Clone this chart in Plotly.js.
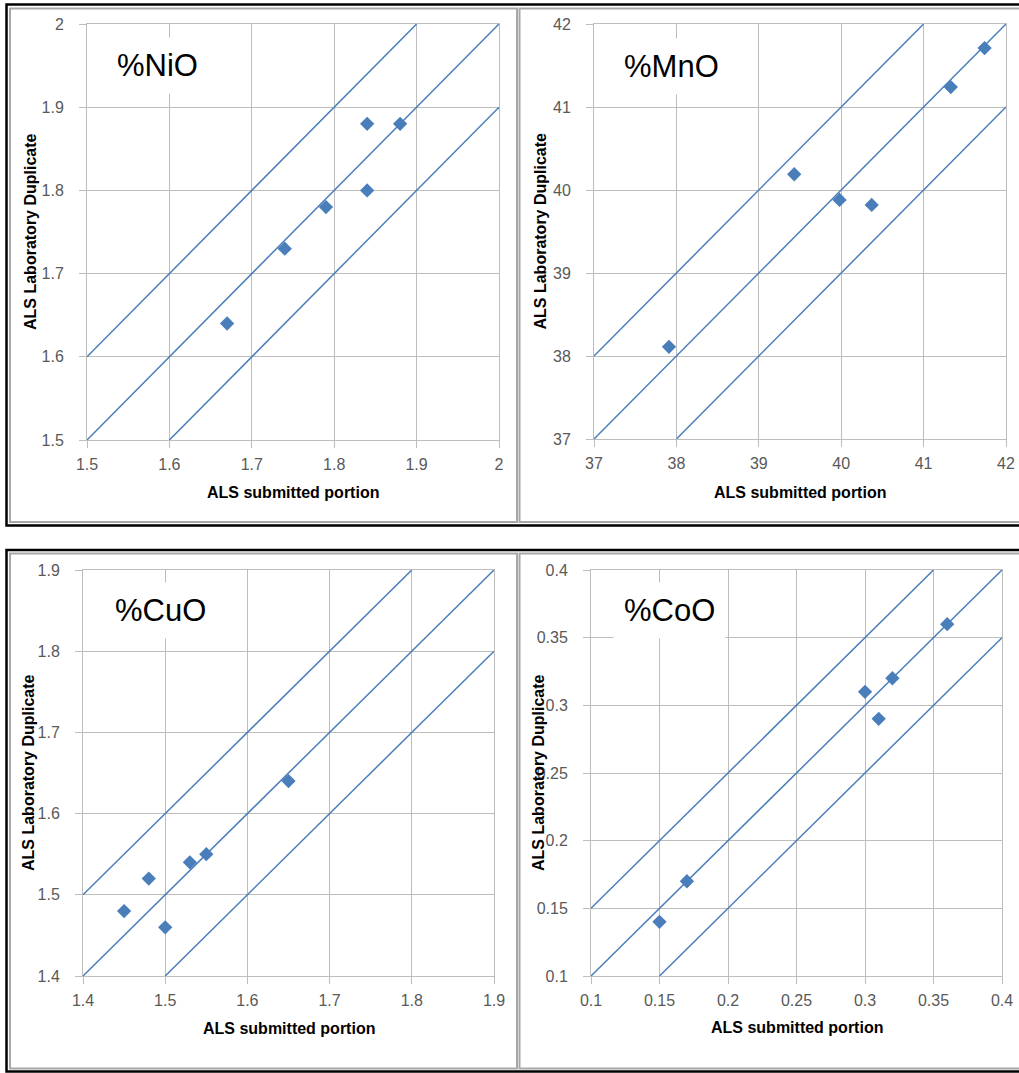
<!DOCTYPE html>
<html>
<head>
<meta charset="utf-8">
<script src="https://cdn.plot.ly/plotly-3.0.1.min.js"></script>
<style>html,body{margin:0;padding:0;background:#fff;}#chart{width:1019px;height:1073px;}</style>
</head>
<body>
<div id="chart"></div>
<script>
// ---- data ----
const panelNames = ['%NiO', '%MnO', '%CuO', '%CoO'];
const xTitle = 'ALS submitted portion';
const yTitle = 'ALS Laboratory Duplicate';

const niRange = [1.5, 2.0];
const niStep = 0.1;
const niBand = 0.1;
const niX = [1.67, 1.74, 1.79, 1.84, 1.84, 1.88];
const niY = [1.64, 1.73, 1.78, 1.88, 1.80, 1.88];

const mnRange = [37, 42];
const mnStep = 1;
const mnBand = 1;
const mnX = [37.91, 39.43, 39.98, 40.37, 41.33, 41.74];
const mnY = [38.11, 40.19, 39.88, 39.82, 41.24, 41.71];

const cuRange = [1.4, 1.9];
const cuStep = 0.1;
const cuBand = 0.1;
const cuX = [1.45, 1.48, 1.50, 1.53, 1.55, 1.65];
const cuY = [1.48, 1.52, 1.46, 1.54, 1.55, 1.64];

const coRange = [0.1, 0.4];
const coStep = 0.05;
const coBand = 0.05;
const coX = [0.15, 0.17, 0.30, 0.31, 0.32, 0.36];
const coY = [0.14, 0.17, 0.31, 0.29, 0.32, 0.36];

// ---- layout helpers ----
const W = 1019, H = 1073;
const px = v => v / W;
const py = v => 1 - v / H;
const blue = '#4a7ebb';
const gridc = '#bdbdbd';
const FONT = 'Liberation Sans, Arial, sans-serif';

const panels = [
  {name: panelNames[0], r: niRange, step: niStep, band: niBand, x: niX, y: niY,
   box: [87, 499, 24, 440], lab: [106, 65], xt: 492, yt: 30},
  {name: panelNames[1], r: mnRange, step: mnStep, band: mnBand, x: mnX, y: mnY,
   box: [594, 1006, 24, 439], lab: [613, 67], xt: 492, yt: 540},
  {name: panelNames[2], r: cuRange, step: cuStep, band: cuBand, x: cuX, y: cuY,
   box: [83, 494, 570, 976], lab: [104, 610], xt: 1028, yt: 28},
  {name: panelNames[3], r: coRange, step: coStep, band: coBand, x: coX, y: coY,
   box: [591, 1002, 570, 976], lab: [613, 610], xt: 1027, yt: 538}
];

const traces = [];
const layout = {
  width: W, height: H,
  margin: {l: 0, r: 0, t: 0, b: 0},
  paper_bgcolor: '#ffffff', plot_bgcolor: '#ffffff',
  showlegend: false,
  font: {family: FONT, color: '#595959'},
  annotations: [], shapes: []
};

panels.forEach((p, i) => {
  const n = i === 0 ? '' : String(i + 1);
  const xa = 'x' + n, ya = 'y' + n;
  const [r0, r1] = p.r;
  const lineStyle = {color: blue, width: 1.5};
  // 1:1 line and tolerance lines
  traces.push({type: 'scatter', mode: 'lines', x: [r0, r1], y: [r0, r1], xaxis: xa, yaxis: ya, line: lineStyle, hoverinfo: 'skip'});
  traces.push({type: 'scatter', mode: 'lines', x: [r0, r1 - p.band], y: [r0 + p.band, r1], xaxis: xa, yaxis: ya, line: lineStyle, hoverinfo: 'skip'});
  traces.push({type: 'scatter', mode: 'lines', x: [r0 + p.band, r1], y: [r0, r1 - p.band], xaxis: xa, yaxis: ya, line: lineStyle, hoverinfo: 'skip'});
  traces.push({type: 'scatter', mode: 'markers', x: p.x, y: p.y, xaxis: xa, yaxis: ya,
    marker: {symbol: 'diamond', size: 11, color: blue, line: {width: 0}}});

  const common = {
    range: [r0, r1], tick0: r0, dtick: p.step, tickmode: 'linear',
    showgrid: true, gridcolor: gridc, gridwidth: 1,
    showline: true, linecolor: gridc, linewidth: 1, mirror: true,
    ticks: 'outside', ticklen: 7, tickcolor: gridc, tickwidth: 1,
    zeroline: false, fixedrange: true,
    tickfont: {family: FONT, size: 16, color: '#595959'}
  };
  layout['xaxis' + n] = Object.assign({}, common, {
    domain: [px(p.box[0]), px(p.box[1])], anchor: ya, ticklabelstandoff: 3
  });
  layout['yaxis' + n] = Object.assign({}, common, {
    domain: [py(p.box[3]), py(p.box[2])], anchor: xa, ticklabelstandoff: 12
  });

  // panel label
  layout.annotations.push({
    text: p.name, xref: 'paper', yref: 'paper', x: px(p.lab[0]), y: py(p.lab[1]),
    xanchor: 'left', yanchor: 'middle', showarrow: false,
    font: {family: FONT, size: 31, color: '#000000'},
    bgcolor: '#ffffff', borderpad: 10
  });
  // axis titles
  layout.annotations.push({
    text: '<b>' + xTitle + '</b>', xref: 'paper', yref: 'paper',
    x: px((p.box[0] + p.box[1]) / 2), y: py(p.xt), xanchor: 'center', yanchor: 'middle',
    showarrow: false, font: {family: FONT, size: 16, color: '#000000'}
  });
  layout.annotations.push({
    text: '<b>' + yTitle + '</b>', xref: 'paper', yref: 'paper', textangle: -90,
    x: px(p.yt), y: py((p.box[2] + p.box[3]) / 2), xanchor: 'center', yanchor: 'middle',
    showarrow: false, font: {family: FONT, size: 16, color: '#000000'}
  });
});

// frames (gray panel borders and black row borders)
function rect(x0, x1, y0, y1, color, width) {
  layout.shapes.push({type: 'rect', xref: 'paper', yref: 'paper',
    x0: px(x0), x1: px(x1), y0: py(y1), y1: py(y0), line: {color: color, width: width}, fillcolor: 'rgba(0,0,0,0)', layer: 'above'});
}
const gray = '#a8a8a8';
rect(10, 517, 8.5, 522, gray, 2);
rect(519.5, 1025, 8.5, 522, gray, 2);
rect(10, 517, 553.5, 1068.5, gray, 2);
rect(519.5, 1025, 553.5, 1068.5, gray, 2);
rect(6.5, 1030, 4.5, 525.5, '#000000', 2.5);
rect(6.5, 1030, 550, 1071.5, '#000000', 2.5);

Plotly.newPlot('chart', traces, layout, {staticPlot: true, displayModeBar: false});
</script>
</body>
</html>
